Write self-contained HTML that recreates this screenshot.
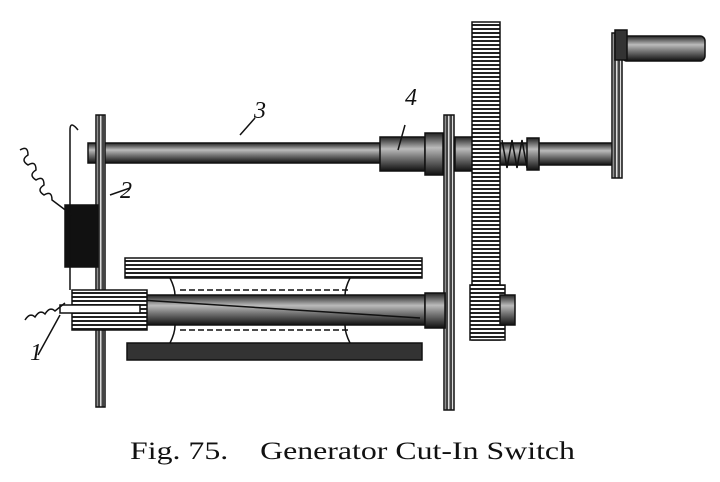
<!DOCTYPE html>
<html><head><meta charset="utf-8"><style>
html,body{margin:0;padding:0;background:#fff;}
svg{display:block}
</style></head><body>
<svg width="720" height="482" viewBox="0 0 720 482" xmlns="http://www.w3.org/2000/svg">
<defs>
<pattern id="h" width="4" height="4" patternUnits="userSpaceOnUse"><rect width="4" height="4" fill="#fff"/><rect width="4" height="2" fill="#222"/></pattern>
<pattern id="v" width="4" height="4" patternUnits="userSpaceOnUse"><rect width="4" height="4" fill="#444"/><rect width="1.5" height="4" fill="#ddd"/></pattern>
<linearGradient id="rod" x1="0" y1="0" x2="0" y2="1"><stop offset="0" stop-color="#222"/><stop offset="0.35" stop-color="#bbb"/><stop offset="0.6" stop-color="#777"/><stop offset="1" stop-color="#111"/></linearGradient>
</defs>
<g stroke="#111" stroke-width="1.5">
<rect x="88" y="143" width="295" height="20" fill="url(#rod)"/>
<rect x="380" y="137" width="45" height="34" fill="url(#rod)"/>
<rect x="425" y="133" width="18" height="42" fill="url(#rod)"/>
<rect x="455" y="137" width="20" height="34" fill="url(#rod)"/>
<rect x="500" y="143" width="115" height="22" fill="url(#rod)"/>
<path d="M502 140 l5 28 l5 -28 l5 28 l5 -28 l5 28" fill="none"/>
<rect x="527" y="138" width="12" height="32" fill="url(#rod)"/>
<rect x="612" y="33" width="10" height="145" fill="url(#v)"/>
<rect x="622" y="36" width="83" height="25" rx="5" fill="url(#rod)"/>
<rect x="615" y="30" width="12" height="30" fill="#333"/>
<rect x="472" y="22" width="28" height="318" fill="url(#h)"/>
<rect x="96" y="115" width="9" height="292" fill="url(#v)"/>
<rect x="444" y="115" width="10" height="295" fill="url(#v)"/>
<rect x="125" y="258" width="297" height="20" fill="url(#h)"/>
<rect x="127" y="343" width="295" height="17" fill="#333"/>
<path d="M170 278 q10 20 0 30 M350 278 q-10 20 0 30 M170 343 q10 -20 0 -30 M350 343 q-10 -20 0 -30" fill="none"/>
<rect x="135" y="295" width="290" height="30" fill="url(#rod)"/>
<path d="M180 290 H350 M180 330 H350" stroke-dasharray="6 3" fill="none"/>
<line x1="140" y1="300" x2="420" y2="318"/>
<rect x="425" y="293" width="20" height="35" fill="url(#rod)"/>
<rect x="470" y="285" width="35" height="55" fill="url(#h)"/>
<rect x="500" y="295" width="15" height="30" fill="url(#rod)"/>
<rect x="72" y="290" width="75" height="40" fill="url(#h)"/>
<rect x="60" y="305" width="80" height="8" fill="#fff"/>
<rect x="65" y="205" width="33" height="62" fill="#111"/>
<path d="M70 130 V290 M78 130 q-8 -10 -8 0" fill="none"/>
<path d="M20 150 q8 -5 8 5 q-8 5 0 10 q8 -5 8 5 q-8 5 0 10 q8 -5 8 5 q-8 5 0 10 q8 -5 8 5 l20 15" fill="none"/>
<path d="M25 320 q5 -8 10 -3 q5 -8 10 -3 q5 -8 10 -3 l10 -8" fill="none"/>
<line x1="38" y1="355" x2="60" y2="315"/>
<line x1="110" y1="195" x2="130" y2="188"/>
<line x1="240" y1="135" x2="255" y2="118"/>
<line x1="405" y1="125" x2="398" y2="150"/>
</g>
<g font-family="Liberation Serif, serif" font-style="italic" font-size="24" fill="#111">
<text x="120" y="198">2</text>
<text x="254" y="118">3</text>
<text x="405" y="105">4</text>
<text x="30" y="360">1</text>
</g>
<text x="130" y="459" font-family="Liberation Serif, serif" font-size="25" fill="#111" textLength="445" lengthAdjust="spacingAndGlyphs" xml:space="preserve">Fig. 75.    Generator Cut-In Switch</text>
</svg>
</body></html>
